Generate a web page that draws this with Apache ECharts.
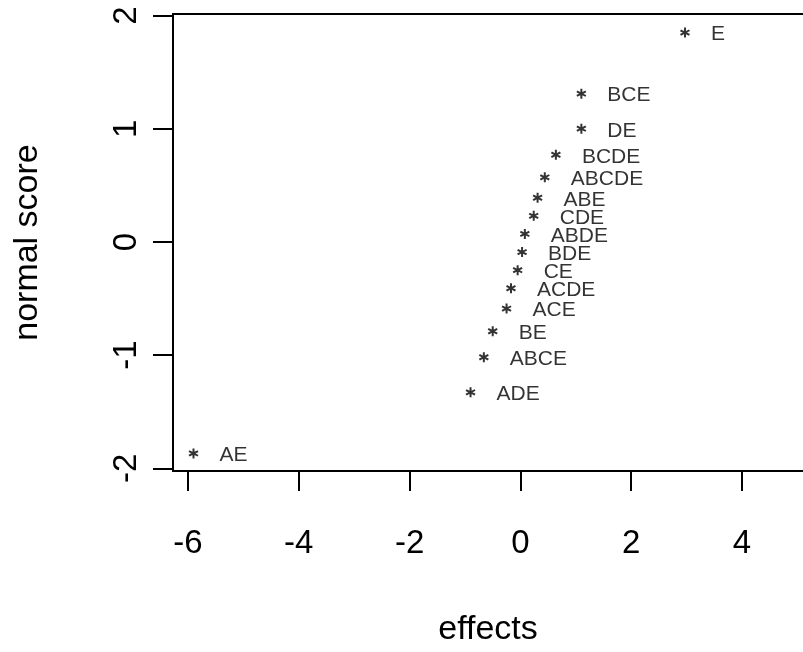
<!DOCTYPE html>
<html>
<head>
<meta charset="utf-8">
<title>Normal plot of effects</title>
<script src="https://cdn.jsdelivr.net/npm/echarts@6/dist/echarts.min.js"></script>
<style>
  html, body { margin: 0; padding: 0; background: #fff; }
  #chart { width: 803px; height: 652px; }
</style>
</head>
<body>
<div id="chart"></div>
<script>
// Effect names, estimated effects and their normal scores
const effectNames = ['E', 'BCE', 'DE', 'BCDE', 'ABCDE', 'ABE', 'CDE', 'ABDE',
                     'BDE', 'CE', 'ACDE', 'ACE', 'BE', 'ABCE', 'ADE', 'AE'];
const effectValues = [2.97, 1.10, 1.10, 0.64, 0.44, 0.31, 0.24, 0.08,
                      0.03, -0.05, -0.17, -0.25, -0.50, -0.66, -0.90, -5.90];
const normalScores = [1.86, 1.32, 1.01, 0.78, 0.58, 0.40, 0.24, 0.08,
                      -0.08, -0.24, -0.40, -0.58, -0.78, -1.01, -1.32, -1.86];

// Axis tick positions
const xTicks = [-6, -4, -2, 0, 2, 4];
const yTicks = [-2, -1, 0, 1, 2];

const FONT = '"Liberation Sans", Arial, sans-serif';
const LINE = { color: '#000', width: 2 };

// Six-armed asterisk used as the plotting symbol
const ASTERISK = 'path://M8.0 0L12.0 0L12.0 20L8.0 20Z' +
  'M0 7.2L2.0 3.7L20 13.0L18.0 16.3Z' +
  'M18.0 3.7L20 7.0L2.0 16.3L0 12.8Z';

const points = effectNames.map((name, i) => ({
  name: name,
  value: [effectValues[i], normalScores[i]]
}));

const xRange = { min: -6.27, max: 5.10 };

const chart = echarts.init(document.getElementById('chart'), null, { renderer: 'canvas' });

chart.setOption({
  animation: false,
  backgroundColor: '#fff',
  grid: {
    left: 173,
    top: 14,
    bottom: 175,
    right: 0,
    show: false
  },
  xAxis: [{
    type: 'value',
    position: 'bottom',
    min: xRange.min,
    max: xRange.max,
    axisLine: { show: true, onZero: false, lineStyle: LINE },
    splitLine: { show: false },
    axisTick: {
      show: true,
      customValues: xTicks,
      length: 20,
      lineStyle: LINE
    },
    axisLabel: {
      customValues: xTicks,
      color: '#000',
      fontFamily: FONT,
      fontSize: 33,
      margin: 73,
      verticalAlign: 'middle',
      formatter: v => String(v)
    },
    name: 'effects',
    nameLocation: 'middle',
    nameGap: 142,
    nameTextStyle: { color: '#000', fontFamily: FONT, fontSize: 34 }
  }, {
    // top edge of the plot box
    type: 'value',
    position: 'top',
    min: xRange.min,
    max: xRange.max,
    axisLine: { show: true, onZero: false, lineStyle: LINE },
    axisTick: { show: false },
    axisLabel: { show: false },
    splitLine: { show: false }
  }],
  yAxis: {
    type: 'value',
    min: -2.024,
    max: 2.015,
    axisLine: { show: true, onZero: false, lineStyle: LINE },
    splitLine: { show: false },
    axisTick: {
      show: true,
      customValues: yTicks,
      length: 20,
      lineStyle: LINE
    },
    axisLabel: {
      customValues: yTicks,
      color: '#000',
      fontFamily: FONT,
      fontSize: 33,
      rotate: 90,
      margin: 30,
      formatter: v => String(v)
    },
    name: 'normal score',
    nameLocation: 'middle',
    nameRotate: 90,
    nameGap: 128,
    nameTextStyle: { color: '#000', fontFamily: FONT, fontSize: 34 }
  },
  series: [{
    type: 'scatter',
    xAxisIndex: 0,
    data: points,
    symbol: ASTERISK,
    symbolSize: [10, 10],
    symbolOffset: [0, 1],
    itemStyle: { color: '#000' },
    label: {
      show: true,
      position: 'right',
      distance: 21,
      offset: [0, 2],
      formatter: p => p.name,
      color: '#000',
      fontFamily: FONT,
      fontSize: 21
    },
    emphasis: { disabled: true }
  }]
});
</script>
</body>
</html>
